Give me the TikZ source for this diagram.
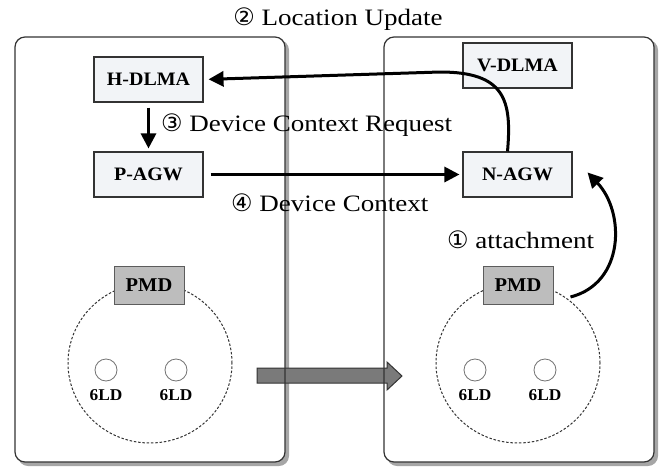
\documentclass[tikz,border=0pt]{standalone}
\usepackage{fontspec}
\setmainfont{Liberation Serif}
\newfontfamily\boxfont{Liberation Serif}[FakeStretch=1.05]
\newfontfamily\lblfont{Liberation Serif}[FakeStretch=1.15]
\newfontfamily\symfont{DejaVu Sans}
\usetikzlibrary{arrows.meta,shapes.geometric}
\definecolor{boxfill}{HTML}{F2F4F7}
\definecolor{pmdfill}{HTML}{BDBDBD}
\definecolor{edge}{HTML}{333333}
\definecolor{bigarrow}{HTML}{7A7A7A}
\newcommand{\cnum}[1]{{\symfont\fontsize{24}{25}\selectfont #1}}
\tikzset{
  panel/.style={draw=edge, line width=1.2pt, rounded corners=10pt},
  panelshadow/.style={fill=black!35, rounded corners=10pt},
  entity/.style={draw=edge, fill=boxfill, line width=1.1pt, minimum width=109pt,
    minimum height=45pt, inner sep=0pt, font=\boxfont\bfseries\fontsize{19}{20}\selectfont},
  pmdbox/.style={draw=edge!80, fill=pmdfill, line width=1pt, minimum width=70pt,
    minimum height=38pt, inner sep=0pt, font=\boxfont\bfseries\fontsize{19.5}{20}\selectfont},
  cluster/.style={draw=edge, dashed, dash pattern=on 2.5pt off 1.8pt, line width=1pt,
    ellipse, minimum width=164pt, minimum height=160pt, inner sep=0pt},
  ldnode/.style={circle, draw=black!55, line width=0.8pt, minimum size=22pt, inner sep=0pt},
  ldlabel/.style={font=\boxfont\bfseries\fontsize{16.5}{17}\selectfont, inner sep=0pt},
  msg/.style={-{Triangle[length=15pt,width=15pt]}, line width=3pt, black},
  steptext/.style={font=\lblfont\fontsize{23.5}{25}\selectfont, text=black, inner sep=0pt}
}
\begin{document}
\begin{tikzpicture}[x=1pt, y=-1pt]
\useasboundingbox (0,0) rectangle (664,466);

% network domains: shadow and white body
\fill[panelshadow] (18,40) rectangle (289,466);
\fill[panelshadow] (387,40) rectangle (658,466);
\fill[white, rounded corners=10pt] (15,37) rectangle (285,462);
\fill[white, rounded corners=10pt] (384,37) rectangle (654,462);

% movement of the PMD group from one domain to the other
\draw[edge, line width=1pt, fill=bigarrow]
  (257,368) -- (387,368) -- (387,362) -- (402,376) -- (387,390) -- (387,383) -- (257,383) -- cycle;

% domain outlines
\draw[panel] (15,37) rectangle (285,462);
\draw[panel] (384,37) rectangle (654,462);

% mobility entities
\node[entity] (hdlma) at (148.5,79.5) {H-DLMA};
\node[entity] (vdlma) at (517.5,65.5) {V-DLMA};
\node[entity] (pagw)  at (148.5,174.5) {P-AGW};
\node[entity] (nagw)  at (517.5,174.5) {N-AGW};

% PMD groups with their 6LoWPAN devices
\node[cluster] (grpL) at (150,363) {};
\node[cluster] (grpR) at (518,363) {};
\node[pmdbox] (pmdL) at (149,285) {PMD};
\node[pmdbox] (pmdR) at (518,285) {PMD};

\node[ldnode] (ldL1) at (106,370) {};
\node[ldnode] (ldL2) at (176,370) {};
\node[ldnode] (ldR1) at (475,370) {};
\node[ldnode] (ldR2) at (545,370) {};
\node[ldlabel, below=8pt] (tL1) at (ldL1.south) {6LD};
\node[ldlabel, below=8pt] (tL2) at (ldL2.south) {6LD};
\node[ldlabel, below=8pt] (tR1) at (ldR1.south) {6LD};
\node[ldlabel, below=8pt] (tR2) at (ldR2.south) {6LD};

% signalling steps
\coordinate (luStart) at ([xshift=-10pt]nagw.north);
\draw[msg, shorten >=5pt] (luStart) .. controls (512,100) and (505,72) .. (440,72) -- (hdlma.east);
\draw[msg, shorten <=5pt, shorten >=3pt] (hdlma.south) -- (pagw.north);
\draw[msg, shorten <=7pt, shorten >=3pt] (pagw.east) -- (nagw.west);
\coordinate (atStart) at ([xshift=17pt, yshift=-12pt]pmdR.east);
\coordinate (atEnd) at ([xshift=15pt, yshift=2pt]nagw.east);
\draw[msg] (atStart) .. controls (625,283) and (625,212) .. (atEnd);

% step labels
\node[steptext] (s2) at (338,19) {\cnum{②} Location Update};
\node[steptext, anchor=west] (s3) at (161,125) {\cnum{③} Device Context Request};
\node[steptext, anchor=west] (s4) at (231,203) {\cnum{④} Device Context};
\node[steptext, anchor=west] (s1) at (447,240) {\cnum{①} attachment};
\end{tikzpicture}
\end{document}
